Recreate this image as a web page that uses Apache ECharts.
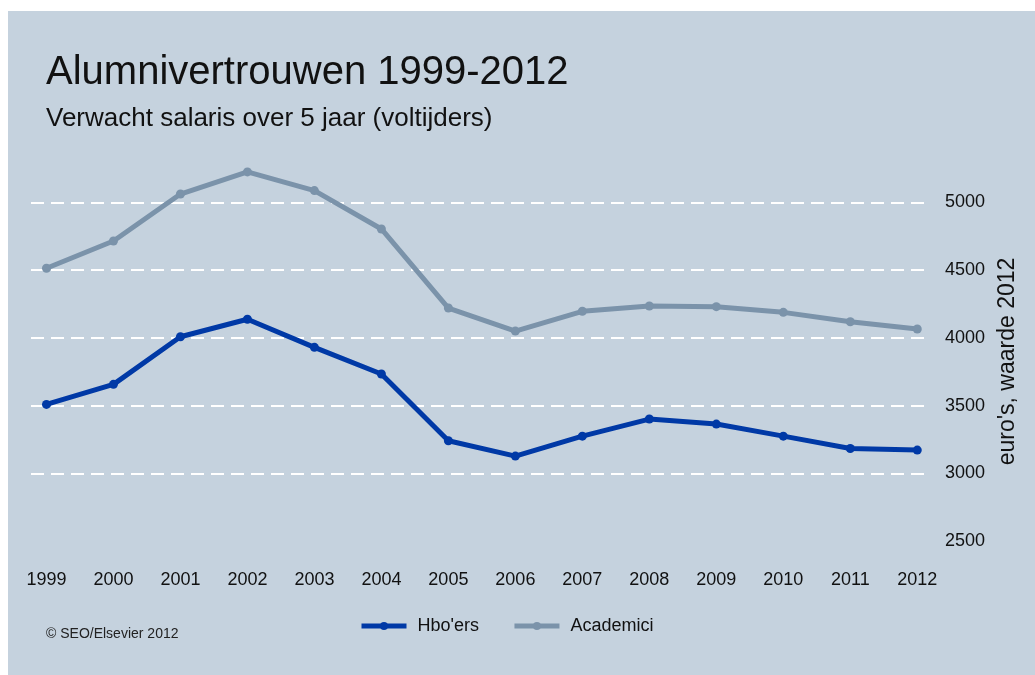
<!DOCTYPE html>
<html>
<head>
<meta charset="utf-8">
<script src="https://cdn.jsdelivr.net/npm/echarts@6/dist/echarts.min.js"></script>
<style>
  html, body { margin: 0; padding: 0; background: #fff; }
  #panel { position: absolute; left: 8px; top: 11px; width: 1027px; height: 664px; background: #c5d2de; }
  #main { position: absolute; left: 0; top: 0; width: 1035px; height: 675px; }
</style>
</head>
<body>
<div id="panel"></div>
<div id="main"></div>
<script>
// jaren en verwachte salarissen (euro's, waarde 2012)
const years = [1999, 2000, 2001, 2002, 2003, 2004, 2005, 2006, 2007, 2008, 2009, 2010, 2011, 2012]
const hboers = [3509, 3657, 4008, 4137, 3930, 3733, 3241, 3128, 3275, 3401, 3364, 3275, 3184, 3172]
const academici = [4513, 4714, 5061, 5224, 5086, 4803, 4220, 4050, 4196, 4235, 4230, 4188, 4119, 4065]
const yTicks = [2500, 3000, 3500, 4000, 4500, 5000]

const font = 'Liberation Sans, Arial, sans-serif'
const chart = echarts.init(document.getElementById('main'))

const option = {
  backgroundColor: 'transparent',
  animation: false,
  title: [
    {
      text: 'Alumnivertrouwen 1999-2012',
      left: 46, top: 53, padding: 0,
      textStyle: { fontFamily: font, fontSize: 40, fontWeight: 'normal', color: '#111' }
    },
    {
      text: 'Verwacht salaris over 5 jaar (voltijders)',
      left: 46, top: 106, padding: 0,
      textStyle: { fontFamily: font, fontSize: 26, fontWeight: 'normal', color: '#111' }
    }
  ],
  legend: {
    left: 359, top: 617, padding: 0,
    itemWidth: 45, itemHeight: 10, itemGap: 33,
    lineStyle: { width: 5 },
    textStyle: { fontFamily: font, fontSize: 18, color: '#111', padding: [0, 0, 0, 6] },
    data: ["Hbo'ers", 'Academici']
  },
  grid: { left: 31, right: 107, top: 134.5, bottom: 133.8 },
  xAxis: {
    type: 'value',
    min: 1998.769, max: 2012.16,
    axisLine: { show: false },
    axisTick: { show: false },
    splitLine: { show: false },
    axisLabel: {
      customValues: years,
      margin: 30,
      fontFamily: font, fontSize: 18, color: '#111',
      formatter: v => String(v)
    }
  },
  yAxis: {
    type: 'value',
    position: 'right',
    min: 2500, max: 5500, interval: 500,
    axisLine: { show: false },
    axisTick: { show: false },
    axisLabel: {
      margin: 17, showMaxLabel: false,
      fontFamily: font, fontSize: 18, color: '#111',
      formatter: v => yTicks.includes(v) ? String(v) : ''
    },
    splitLine: {
      show: true, showMinLine: false, showMaxLine: false,
      lineStyle: { color: '#ffffff', width: 2, type: [13, 7] }
    }
  },
  graphic: [
    {
      type: 'text', x: 1008, y: 361.5, rotation: Math.PI / 2,
      style: { text: "euro's, waarde 2012", fontFamily: font, fontSize: 23, fill: '#111', textAlign: 'center', textVerticalAlign: 'middle' }
    },
    {
      type: 'text', x: 46, y: 634,
      style: { text: '\u00a9 SEO/Elsevier 2012', fontFamily: font, fontSize: 14, fill: '#222', textAlign: 'left', textVerticalAlign: 'middle' }
    }
  ],
  series: [
    {
      name: "Hbo'ers",
      type: 'line',
      data: years.map((y, i) => [y, hboers[i]]),
      symbol: 'circle', symbolSize: 9,
      lineStyle: { width: 5, color: '#0039a6' },
      itemStyle: { color: '#0039a6' }
    },
    {
      name: 'Academici',
      type: 'line',
      data: years.map((y, i) => [y, academici[i]]),
      symbol: 'circle', symbolSize: 9,
      lineStyle: { width: 5, color: '#7b93aa' },
      itemStyle: { color: '#7b93aa' }
    }
  ]
}

chart.setOption(option)
</script>
</body>
</html>
